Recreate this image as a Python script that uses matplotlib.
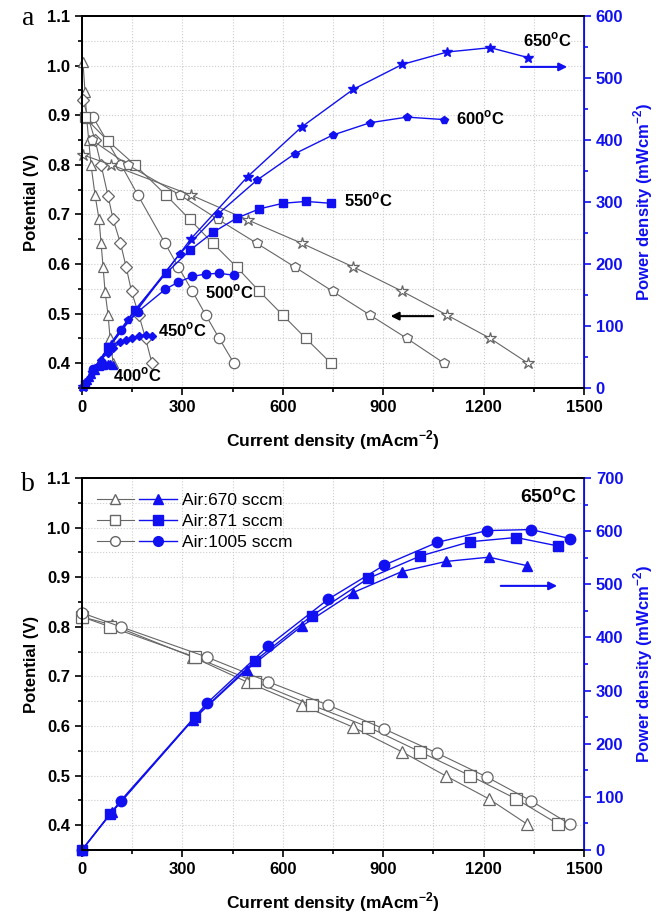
import matplotlib
matplotlib.use('Agg')
import matplotlib.pyplot as plt
from matplotlib.lines import Line2D
from matplotlib.legend_handler import HandlerTuple
from matplotlib.ticker import MultipleLocator

plt.rcParams['font.family'] = ['Liberation Sans', 'DejaVu Sans']
plt.rcParams['mathtext.fontset'] = 'custom'
plt.rcParams['mathtext.bf'] = 'Liberation Sans:bold'
plt.rcParams['mathtext.rm'] = 'Liberation Sans'

# ---- panel a: temperature series (current mA/cm2, potential V, power mW/cm2)
temps = ['400', '450', '500', '550', '600', '650']
markers_a = ['^', 'D', 'o', 's', 'p', '*']

i400 = [3, 9, 14, 20, 27, 39, 51, 57, 63, 69, 78, 84, 93]
v400 = [1.007, 0.947, 0.895, 0.85, 0.80, 0.739, 0.69, 0.642, 0.594, 0.544, 0.497, 0.45, 0.40]
p400 = [3, 9, 13, 17, 22, 29, 35, 37, 37, 38, 39, 38, 37]

i450 = [3, 39, 57, 78, 93, 115, 132, 148, 170, 190, 209]
v450 = [0.93, 0.85, 0.80, 0.737, 0.69, 0.642, 0.594, 0.545, 0.497, 0.45, 0.40]
p450 = [3, 33, 46, 57, 64, 74, 78, 81, 84, 86, 84]

i500 = [33, 117, 167, 248, 288, 330, 370, 410, 454]
v500 = [0.896, 0.80, 0.739, 0.642, 0.594, 0.545, 0.497, 0.45, 0.40]
p500 = [30, 94, 123, 159, 171, 180, 184, 185, 182]

i550 = [8, 78, 158, 251, 322, 391, 462, 530, 600, 669, 744]
v550 = [0.896, 0.848, 0.80, 0.739, 0.69, 0.642, 0.594, 0.545, 0.497, 0.45, 0.40]
p550 = [7, 66, 126, 185, 222, 251, 274, 289, 298, 301, 298]

i600 = [30, 137, 293, 407, 522, 636, 749, 861, 971, 1082]
v600 = [0.85, 0.80, 0.739, 0.69, 0.642, 0.594, 0.545, 0.497, 0.45, 0.40]
p600 = [26, 110, 217, 281, 335, 378, 408, 428, 437, 433]

i650 = [3, 87, 326, 495, 656, 811, 957, 1091, 1220, 1333]
v650 = [0.82, 0.80, 0.739, 0.689, 0.642, 0.594, 0.545, 0.497, 0.45, 0.40]
p650 = [2, 70, 241, 341, 421, 482, 522, 542, 549, 533]

curr_a = [i400, i450, i500, i550, i600, i650]
pot_a = [v400, v450, v500, v550, v600, v650]
pow_a = [p400, p450, p500, p550, p600, p650]
# label anchor (current, power) for each temperature
label_pos_a = [(93, 21), (227, 94), (368, 155), (783, 303), (1117, 435), (1318, 561)]

# ---- panel b: air flow series at 650 C
flows = ['Air:670 sccm', 'Air:871 sccm', 'Air:1005 sccm']
markers_b = ['^', 's', 'o']

i670 = [0, 89, 331, 492, 656, 809, 956, 1088, 1216, 1330]
v670 = [0.82, 0.804, 0.739, 0.689, 0.642, 0.598, 0.548, 0.499, 0.453, 0.402]
p670 = [0, 72, 245, 339, 421, 484, 524, 543, 551, 535]

i871 = [0, 84, 338, 517, 687, 855, 1010, 1159, 1297, 1423]
v871 = [0.82, 0.80, 0.739, 0.689, 0.642, 0.598, 0.548, 0.50, 0.453, 0.402]
p871 = [0, 67, 250, 356, 441, 511, 553, 580, 588, 572]

i1005 = [0, 116, 373, 557, 736, 903, 1062, 1210, 1342, 1458]
v1005 = [0.828, 0.80, 0.739, 0.689, 0.642, 0.594, 0.545, 0.497, 0.449, 0.402]
p1005 = [0, 93, 276, 384, 472, 536, 579, 601, 603, 586]

curr_b = [i670, i871, i1005]
pot_b = [v670, v871, v1005]
pow_b = [p670, p871, p1005]

GRAY = '#666666'
BLUE = '#1010f0'


def setup_axes(ax, ax2, pmax):
    ax.set_xlim(0, 1500)
    ax.set_ylim(0.35, 1.1)
    ax2.set_ylim(0, pmax)
    ax.xaxis.set_major_locator(MultipleLocator(300))
    ax.xaxis.set_minor_locator(MultipleLocator(150))
    ax.yaxis.set_major_locator(MultipleLocator(0.1))
    ax.yaxis.set_minor_locator(MultipleLocator(0.05))
    ax2.yaxis.set_major_locator(MultipleLocator(100))
    ax2.yaxis.set_minor_locator(MultipleLocator(50))
    ax.grid(True, which='both', color='#cccccc', linestyle=':', linewidth=0.8)
    ax.set_axisbelow(True)
    ax.tick_params(which='both', direction='out', width=1.2, labelsize=12)
    ax.tick_params(which='major', length=5)
    ax.tick_params(which='minor', length=3)
    ax2.tick_params(which='both', direction='out', width=1.2, colors=BLUE, labelsize=12)
    ax2.tick_params(which='major', length=5)
    ax2.tick_params(which='minor', length=3)
    for lab in ax.get_xticklabels() + ax.get_yticklabels() + ax2.get_yticklabels():
        lab.set_fontweight('bold')
    for s in ['left', 'bottom', 'top']:
        ax.spines[s].set_linewidth(1.3)
        ax2.spines[s].set_linewidth(1.3)
    ax2.spines['right'].set_color(BLUE)
    ax2.spines['right'].set_linewidth(1.3)
    ax.set_xlabel(r'Current density (mAcm$^{\mathbf{-2}}$)', fontsize=12.5, fontweight='bold', labelpad=10)
    ax.set_ylabel('Potential (V)', fontsize=12, fontweight='bold', labelpad=6)
    ax2.set_ylabel(r'Power density (mWcm$^{\mathbf{-2}}$)', fontsize=12, fontweight='bold',
                   color=BLUE, labelpad=6)


fig = plt.figure(figsize=(6.66, 9.18), dpi=100)

# panel a
ax = fig.add_axes([0.1231, 0.5773, 0.7538, 0.4052])
ax2 = ax.twinx()
for cur, pot, pw, mk, t, lp in zip(curr_a, pot_a, pow_a, markers_a, temps, label_pos_a):
    ms = 9 if mk == '*' else (6 if mk == 'D' else 7.5)
    ax.plot(cur, pot, color=GRAY, lw=0.8, marker=mk, ms=ms, mfc='white', mec=GRAY, mew=0.9, clip_on=False)
    ax2.plot(cur, pw, color=BLUE, lw=1.0, marker=mk, ms=ms - 1.5, mfc=BLUE, mec=BLUE, clip_on=False)
    ax2.text(lp[0], lp[1], t + r'$^{\mathbf{o}}$C', fontsize=12, fontweight='bold', va='center', ha='left')
ax2.annotate('', xy=(1458, 518), xytext=(1303, 518),
             arrowprops=dict(arrowstyle='-|>', color=BLUE, lw=1.5, mutation_scale=12))
ax.annotate('', xy=(914, 0.495), xytext=(1058, 0.495),
            arrowprops=dict(arrowstyle='-|>', color='black', lw=1.5, mutation_scale=12))
setup_axes(ax, ax2, 600)

# panel b
bx = fig.add_axes([0.1231, 0.0741, 0.7538, 0.4052])
bx2 = bx.twinx()
handles = []
for cur, pot, pw, mk in zip(curr_b, pot_b, pow_b, markers_b):
    bx.plot(cur, pot, color=GRAY, lw=0.8, marker=mk, ms=8, mfc='white', mec=GRAY, mew=0.9, clip_on=False)
    bx2.plot(cur, pw, color=BLUE, lw=1.0, marker=mk, ms=7.5, mfc=BLUE, mec=BLUE, clip_on=False)
    handles.append((Line2D([], [], color=GRAY, lw=0.8, marker=mk, ms=7, mfc='white', mec=GRAY),
                    Line2D([], [], color=BLUE, lw=1.0, marker=mk, ms=7, mfc=BLUE, mec=BLUE)))
bx2.text(1480, 665, r'650$^{\mathbf{o}}$C', fontsize=14, fontweight='bold', ha='right', va='center')
bx2.annotate('', xy=(1428, 497), xytext=(1243, 497),
             arrowprops=dict(arrowstyle='-|>', color=BLUE, lw=1.5, mutation_scale=12))
setup_axes(bx, bx2, 700)
bx2.legend(handles, flows, handler_map={tuple: HandlerTuple(ndivide=None, pad=0.3)},
           loc='upper left', frameon=False, fontsize=12.5, handlelength=4.6,
           labelspacing=0.35, borderaxespad=0.45, handletextpad=0.3)

fig.text(0.042, 0.980, 'a', fontsize=20, family='Liberation Serif', ha='center', va='center')
fig.text(0.042, 0.472, 'b', fontsize=20, family='Liberation Serif', ha='center', va='center')

fig.savefig('out.png', dpi=100)
